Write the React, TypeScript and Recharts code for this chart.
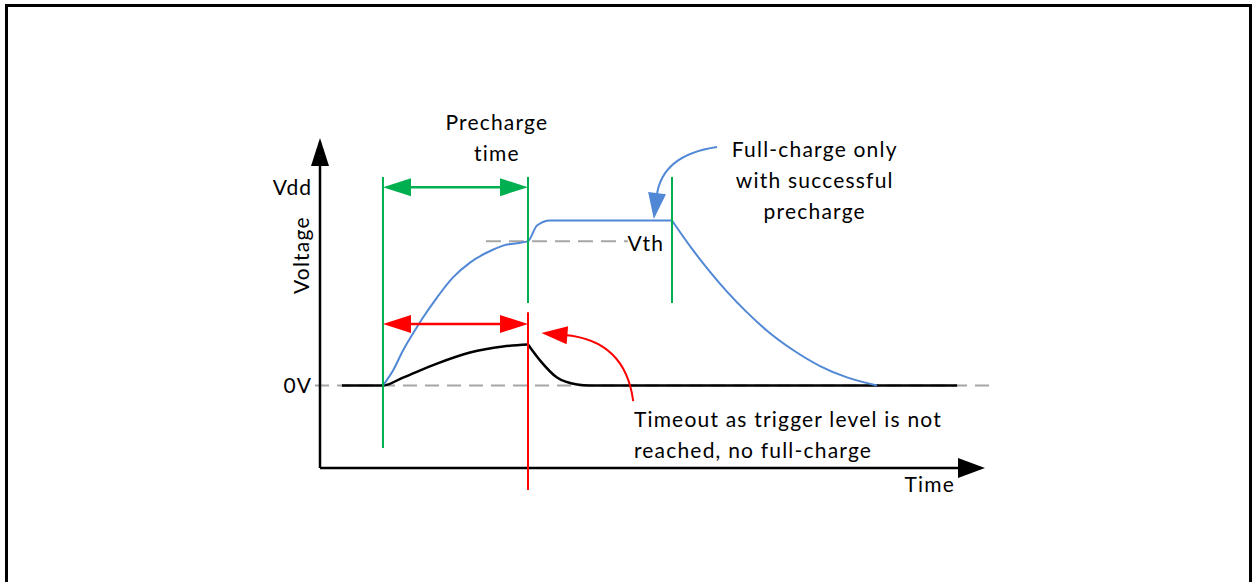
import React from 'react'
import { LineChart, Line, XAxis, YAxis, ReferenceLine, ReferenceDot } from 'recharts'

// time axis runs 0..100, voltage axis -0.5..1.5 (0 = 0V, 1 = full charge)
const blueRiseTime = [9.47, 10.98, 12.48, 13.98, 15.49, 17.59, 20.0, 22.56, 25.11, 27.52, 31.28, 32.63, 34.59, 52.93]
const blueRiseVolt = [0, 0.091, 0.212, 0.315, 0.412, 0.533, 0.655, 0.745, 0.806, 0.848, 0.875, 0.97, 1.0, 1.0]
const blueFallTime = [52.93, 56.09, 58.65, 61.2, 64.21, 67.22, 71.13, 75.19, 79.25, 83.76]
const blueFallVolt = [1.0, 0.82, 0.689, 0.569, 0.443, 0.332, 0.215, 0.118, 0.049, 0]

const blackRiseTime = [3.3, 9.47, 12.48, 17.59, 22.56, 27.52, 31.28]
const blackRiseVolt = [0, 0, 0.048, 0.133, 0.2, 0.236, 0.248]
const blackFallTime = [31.28, 33.08, 35.64, 38.65, 40.6, 95.8]
const blackFallVolt = [0.248, 0.152, 0.048, 0.006, 0, 0]

const yTicks = [0, 1.2]
const yTickLabels = ['0V', 'Vdd']

const vth = 0.875
const tStart = 9.47
const tPrecharge = 31.28
const tFullEnd = 52.93

const prechargeLabel = ['Precharge', 'time']
const fullChargeLabel = ['Full-charge only', 'with successful', 'precharge']
const timeoutLabel = ['Timeout as trigger level is not', 'reached, no full-charge']

const toPoints = (ts: number[], vs: number[]) => ts.map((t, i) => ({ t, v: vs[i] }))
const blueRise = toPoints(blueRiseTime, blueRiseVolt)
const blueFall = toPoints(blueFallTime, blueFallVolt)
const blackRise = toPoints(blackRiseTime, blackRiseVolt)
const blackFall = toPoints(blackFallTime, blackFallVolt)

const FONT = 'Lato, sans-serif'
const GREEN = '#00B050'
const RED = '#FF0000'
const BLUE = '#5088D6'
const GREY = '#A6A6A6'

const head = (tx: number, ty: number, ux: number, uy: number, len: number, half: number, color: string) => {
  const bx = tx - ux * len
  const by = ty - uy * len
  const px = -uy
  const py = ux
  return (
    <polygon
      points={`${tx},${ty} ${bx + px * half},${by + py * half} ${bx - px * half},${by - py * half}`}
      fill={color}
    />
  )
}

// straight arrow, head at the end (or both ends)
const arrow = (color: string, width: number, both = false, len = 28, half = 9) => (p: any) => {
  const { x1, y1, x2, y2 } = p
  const d = Math.hypot(x2 - x1, y2 - y1) || 1
  const ux = (x2 - x1) / d
  const uy = (y2 - y1) / d
  return (
    <g>
      <line
        x1={both ? x1 + ux * (len - 2) : x1}
        y1={both ? y1 + uy * (len - 2) : y1}
        x2={x2 - ux * (len - 2)}
        y2={y2 - uy * (len - 2)}
        stroke={color}
        strokeWidth={width}
      />
      {head(x2, y2, ux, uy, len, half, color)}
      {both && head(x1, y1, -ux, -uy, len, half, color)}
    </g>
  )
}

// curved pointer, control point given as fractions of the segment box
const curved = (color: string, cx: number, cy: number, len = 26, half = 9) => (p: any) => {
  const { x1, y1, x2, y2 } = p
  const qx = x1 + cx * (x2 - x1)
  const qy = y1 + cy * (y2 - y1)
  const d = Math.hypot(x2 - qx, y2 - qy) || 1
  const ux = (x2 - qx) / d
  const uy = (y2 - qy) / d
  return (
    <g>
      <path
        d={`M${x1},${y1} Q${qx},${qy} ${x2 - ux * (len - 3)},${y2 - uy * (len - 3)}`}
        fill="none"
        stroke={color}
        strokeWidth={2}
      />
      {head(x2, y2, ux, uy, len, half, color)}
    </g>
  )
}

const note = (lines: string[], anchor: 'start' | 'middle' | 'end', rotate = false) => (p: any) => (
  <text
    x={p.cx}
    y={p.cy}
    textAnchor={anchor}
    fontFamily={FONT}
    fontSize={21}
    letterSpacing={1.2}
    fill="#000"
    transform={rotate ? `rotate(-90 ${p.cx} ${p.cy})` : undefined}
  >
    {lines.map((l, i) => (
      <tspan key={i} x={p.cx} dy={i ? 31 : 0}>
        {l}
      </tspan>
    ))}
  </text>
)

const curve = (data: { t: number; v: number }[], color: string, width: number) => (
  <Line data={data} dataKey="v" type="monotone" stroke={color} strokeWidth={width} dot={false} isAnimationActive={false} />
)

export default function App() {
  return (
    <div style={{ position: 'absolute', left: 0, top: 0, width: 1252, height: 582, overflow: 'hidden', background: '#fff' }}>
      <div style={{ position: 'absolute', left: 5, top: 4, width: 1241, height: 700, border: '3px solid #000' }} />
      <div style={{ position: 'absolute', left: 0, top: 0 }}>
        <LineChart width={1252} height={582} margin={{ top: 138, right: 267, bottom: 114, left: 260 }}>
          <XAxis dataKey="t" type="number" domain={[0, 100]} hide />
          <YAxis
            type="number"
            domain={[-0.5, 1.5]}
            width={60}
            ticks={yTicks}
            tickFormatter={(v: number) => yTickLabels[yTicks.indexOf(v)]}
            axisLine={false}
            tickLine={false}
            tick={{ fill: '#000', fontSize: 21, fontFamily: FONT, letterSpacing: 1 }}
          />

          {/* dashed levels */}
          <ReferenceLine segment={[{ x: -0.75, y: 0 }, { x: 100.75, y: 0 }]} stroke={GREY} strokeWidth={2} strokeDasharray="14 8" ifOverflow="visible" />
          <ReferenceLine segment={[{ x: 24.96, y: vth }, { x: 46.3, y: vth }]} stroke={GREY} strokeWidth={2} strokeDasharray="15 8" ifOverflow="visible" />

          {/* axes with arrow heads */}
          <ReferenceLine segment={[{ x: 0, y: -0.5 }, { x: 0, y: 1.5 }]} ifOverflow="visible" shape={arrow('#000', 2.5)} />
          <ReferenceLine segment={[{ x: 0, y: -0.5 }, { x: 100, y: -0.5 }]} ifOverflow="visible" shape={arrow('#000', 2.5, false, 27, 10)} />

          {curve(blackRise, '#000', 2.5)}
          {curve(blackFall, '#000', 2.5)}
          {curve(blueRise, BLUE, 2)}
          {curve(blueFall, BLUE, 2)}

          {/* markers */}
          <ReferenceLine segment={[{ x: tStart, y: 1.264 }, { x: tStart, y: -0.379 }]} stroke={GREEN} strokeWidth={2} ifOverflow="visible" />
          <ReferenceLine segment={[{ x: tPrecharge, y: 1.264 }, { x: tPrecharge, y: 0.5 }]} stroke={GREEN} strokeWidth={2} ifOverflow="visible" />
          <ReferenceLine segment={[{ x: tFullEnd, y: 1.264 }, { x: tFullEnd, y: 0.5 }]} stroke={GREEN} strokeWidth={2} ifOverflow="visible" />
          <ReferenceLine segment={[{ x: tPrecharge, y: 0.444 }, { x: tPrecharge, y: -0.633 }]} stroke={RED} strokeWidth={2} ifOverflow="visible" />

          <ReferenceLine segment={[{ x: tStart, y: 1.202 }, { x: tPrecharge, y: 1.202 }]} ifOverflow="visible" shape={arrow(GREEN, 2.5, true)} />
          <ReferenceLine segment={[{ x: tStart, y: 0.373 }, { x: tPrecharge, y: 0.373 }]} ifOverflow="visible" shape={arrow(RED, 2.5, true)} />

          <ReferenceLine segment={[{ x: 59.7, y: 1.445 }, { x: 50.2, y: 1.009 }]} ifOverflow="visible" shape={curved(BLUE, 0.873, 0.11)} />
          <ReferenceLine segment={[{ x: 47.1, y: -0.094 }, { x: 33.3, y: 0.318 }]} ifOverflow="visible" shape={curved(RED, 0.088, 0.897)} />

          {/* text */}
          <ReferenceDot x={26.6} y={1.548} r={1} fill="none" stroke="none" ifOverflow="visible" shape={note(prechargeLabel, 'middle')} />
          <ReferenceDot x={74.4} y={1.387} r={1} fill="none" stroke="none" ifOverflow="visible" shape={note(fullChargeLabel, 'middle')} />
          <ReferenceDot x={47.2} y={-0.2515} r={1} fill="none" stroke="none" ifOverflow="visible" shape={note(timeoutLabel, 'start')} />
          <ReferenceDot x={49.0} y={0.815} r={1} fill="none" stroke="none" ifOverflow="visible" shape={note(['Vth'], 'middle')} />
          <ReferenceDot x={91.7} y={-0.645} r={1} fill="none" stroke="none" ifOverflow="visible" shape={note(['Time'], 'middle')} />
          <ReferenceDot x={-1.7} y={0.79} r={1} fill="none" stroke="none" ifOverflow="visible" shape={note(['Voltage'], 'middle', true)} />
        </LineChart>
      </div>
    </div>
  )
}
